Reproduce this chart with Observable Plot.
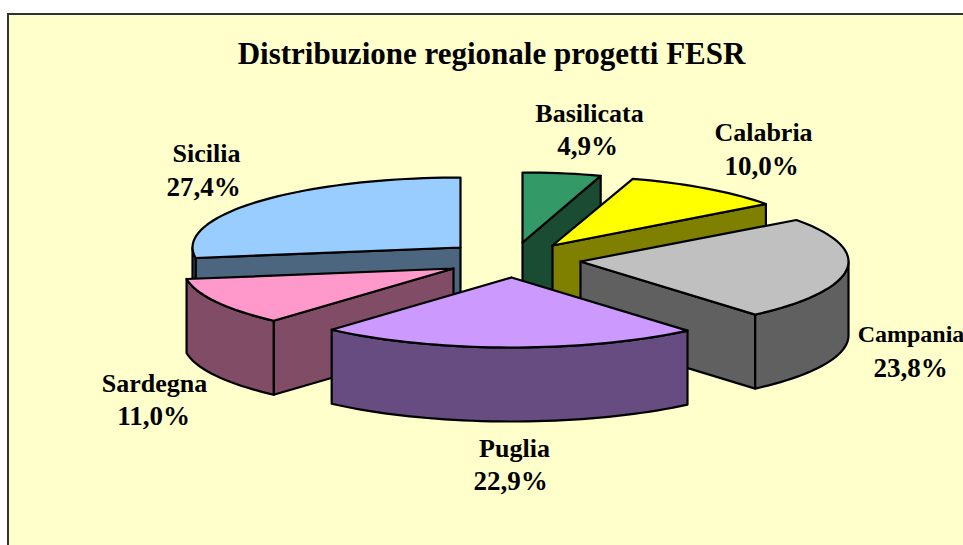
<!DOCTYPE html>
<html>
<head>
<meta charset="utf-8">
<script src="https://cdn.jsdelivr.net/npm/d3@7"></script>
<script src="https://cdn.jsdelivr.net/npm/@observablehq/plot@0.6"></script>
<style>
html,body{margin:0;padding:0;background:#fff;overflow:hidden;width:963px;height:545px}
#frame{position:absolute;left:7px;top:13px;width:1000px;height:600px;box-sizing:border-box;border:2px solid #333;background:#FFFFCC}
#chart{position:absolute;left:0;top:0;width:963px;height:545px}
#chart svg{background:transparent;display:block}
</style>
</head>
<body>
<div id="frame"></div>
<div id="chart"></div>
<script>
const regions = ["Basilicata","Calabria","Campania","Puglia","Sardegna","Sicilia"];
const shares  = [4.9,10.0,23.8,22.9,11.0,27.4];
const title   = "Distribuzione regionale progetti FESR";

// colours
const topColors  = ["#339966","#FFFF00","#C0C0C0","#CC99FF","#FF99CC","#99CCFF"];
const sideColors = ["#1A4C33","#808000","#606060","#664C80","#804C66","#4C6680"];

// layout of the exploded pie
const apexX = [522,552,580,511,453,460];
const apexY = [242,245,261,277,268,247];
const radiusX = [258,265,268,270,270,268];
const nameX = [589,763,910.5,514,154,206];
const nameY = [113,132,334,448,383,153];
const nameSize = [26,26,24,26,26,26];
const pctX  = [587,761,910,510,153,203];
const pctY  = [146,166,368,481,416,187];
const drawOrder = [0,5,1,2,4,3];
const ry = 70, depth = 74;

const rad = d => d * Math.PI / 180;
const sum = d3.sum(shares);
let acc = 0;
const slices = shares.map((v,i) => {
  const a = acc / sum * 360; acc += v; const b = acc / sum * 360;
  return {i, a, b};
});
const pt = (s,deg,dz=0) => ({
  x: apexX[s.i] + radiusX[s.i]*Math.sin(rad(deg)),
  y: apexY[s.i] - ry*Math.cos(rad(deg)) + dz
});
const arc = (s,a,b,dz=0) => {
  const n = Math.max(2, Math.ceil(Math.abs(b-a)/2));
  return d3.range(n+1).map(k => pt(s, a+(b-a)*k/n, dz));
};
const closed = pts => [...pts, pts[0]];
const poly = (pts,fill) => Plot.line(closed(pts), {x:"x", y:"y", fill, stroke:"#000", strokeWidth:2.2, strokeLinejoin:"round"});
const face = (s,deg,fill) => {
  const c = {x:apexX[s.i], y:apexY[s.i]}, p = pt(s,deg);
  return poly([c,p,{x:p.x,y:p.y+depth},{x:c.x,y:c.y+depth}], fill);
};

const marks = [];
for (const idx of drawOrder) {
  const s = slices[idx], side = sideColors[idx];
  if (Math.sin(rad(s.a)) < -1e-6) marks.push(face(s,s.a,side));
  if (Math.sin(rad(s.b)) >  1e-6) marks.push(face(s,s.b,side));
  const r0 = Math.max(s.a,90), r1 = Math.min(s.b,270);
  if (r1 > r0) marks.push(poly([...arc(s,r0,r1), ...arc(s,r1,r0,depth)], side));
  marks.push(poly([{x:apexX[idx],y:apexY[idx]}, ...arc(s,s.a,s.b)], topColors[idx]));
}

const textStyle = {fontWeight:"bold", fontFamily:"Liberation Serif", fill:"#000", textAnchor:"middle", lineAnchor:"middle"};
for (const i of d3.range(regions.length)) {
  marks.push(Plot.text([regions[i]], {x:()=>nameX[i], y:()=>nameY[i], text:d=>d, fontSize:nameSize[i], ...textStyle}));
}
const pcts = shares.map((v,i) => ({text:v.toFixed(1).replace(".",",") + "%", x:pctX[i], y:pctY[i]}));
marks.push(Plot.text(pcts, {x:"x", y:"y", text:"text", fontSize:27, ...textStyle}));
marks.push(Plot.text([title], {x:()=>491, y:()=>54, text:d=>d, fontSize:31, ...textStyle}));

const chart = Plot.plot({
  width:963, height:545, margin:0,
  x:{domain:[0,963], range:[0,963], axis:null},
  y:{domain:[0,545], range:[0,545], axis:null},
  style:{background:"transparent"},
  marks
});
document.getElementById("chart").append(chart);
</script>
</body>
</html>
